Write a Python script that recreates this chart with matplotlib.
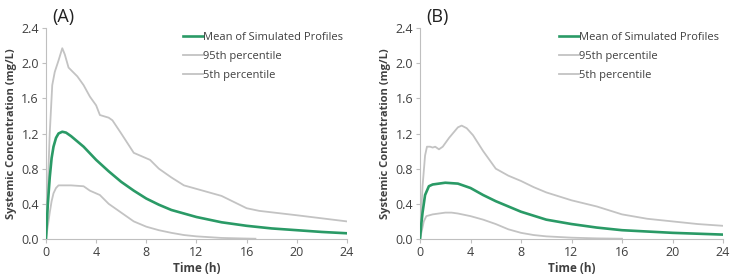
import matplotlib
matplotlib.use("Agg")
import matplotlib.pyplot as plt
import numpy as np

plt.rcParams['font.family'] = ['Open Sans', 'DejaVu Sans']

# Panel A data
a_p95_t = [0, 0.3, 0.5, 0.7, 1.0, 1.3, 1.5, 1.8, 2.5, 3.0, 3.5, 4.0, 4.3, 5.0, 5.3, 6.0, 7.0, 8.3, 9.0, 10.0, 11.0, 12.0, 13.0, 14.0, 15.0, 16.0, 17.0, 20.0, 24.0]
a_p95_c = [0, 1.2, 1.75, 1.9, 2.03, 2.17, 2.1, 1.95, 1.85, 1.75, 1.62, 1.52, 1.41, 1.38, 1.35, 1.2, 0.98, 0.9, 0.8, 0.7, 0.61, 0.57, 0.53, 0.49, 0.42, 0.35, 0.32, 0.27, 0.2]
a_mean_t = [0, 0.15, 0.3, 0.45, 0.6, 0.8, 1.0, 1.3, 1.6, 2.0, 3.0, 4.0, 5.0, 6.0, 7.0, 8.0, 9.0, 10.0, 12.0, 14.0, 16.0, 18.0, 20.0, 22.0, 24.0]
a_mean_c = [0, 0.4, 0.7, 0.92, 1.05, 1.15, 1.2, 1.22, 1.21, 1.17, 1.05, 0.9, 0.77, 0.65, 0.55, 0.46, 0.39, 0.33, 0.25, 0.19, 0.15, 0.12, 0.1, 0.08, 0.065]
a_p5_t = [0, 0.15, 0.3, 0.45, 0.6, 0.8, 1.0, 2.0, 3.0, 3.5, 4.3, 5.0, 6.0, 7.0, 8.0, 9.0, 10.0, 11.0, 12.0, 14.0, 16.0, 16.7]
a_p5_c = [0, 0.15, 0.3, 0.43, 0.52, 0.58, 0.61, 0.61, 0.6, 0.55, 0.5, 0.4, 0.3, 0.2, 0.14, 0.1, 0.07, 0.045, 0.03, 0.012, 0.005, 0.003]

# Panel B data
b_p95_t = [0, 0.2, 0.4, 0.55, 0.8, 1.0, 1.2, 1.5, 1.8, 2.3, 3.0, 3.3, 3.7, 4.2, 5.0, 6.0, 7.0, 8.0, 9.0, 10.0, 12.0, 14.0, 16.0, 18.0, 20.0, 22.0, 24.0]
b_p95_c = [0, 0.6, 0.95, 1.05, 1.05, 1.04, 1.05, 1.02, 1.05, 1.15, 1.27, 1.29, 1.26, 1.18, 1.0, 0.8, 0.72, 0.66, 0.59, 0.53, 0.44, 0.37, 0.28, 0.23, 0.2, 0.17, 0.15]
b_mean_t = [0, 0.1, 0.2, 0.4, 0.7, 1.0, 2.0, 3.0, 4.0, 5.0, 6.0, 7.0, 8.0, 10.0, 12.0, 14.0, 16.0, 18.0, 20.0, 22.0, 24.0]
b_mean_c = [0, 0.17, 0.3, 0.5, 0.6, 0.62, 0.64, 0.63, 0.58, 0.5, 0.43, 0.37, 0.31, 0.22, 0.17, 0.13, 0.1, 0.085, 0.07, 0.06, 0.05]
b_p5_t = [0, 0.15, 0.3, 0.5, 1.0, 2.0, 2.5, 3.0, 4.0, 5.0, 6.0, 7.0, 8.0, 9.0, 10.0, 12.0, 14.0, 16.0]
b_p5_c = [0, 0.1, 0.2, 0.26, 0.28, 0.3, 0.3, 0.29, 0.26, 0.22, 0.17, 0.11, 0.07, 0.045, 0.03, 0.015, 0.007, 0.003]

x_ticks = [0, 4, 8, 12, 16, 20, 24]
y_ticks = [0.0, 0.4, 0.8, 1.2, 1.6, 2.0, 2.4]
labels = ["Mean of Simulated Profiles", "95th percentile", "5th percentile"]
panel_titles = ["(A)", "(B)"]

green = '#2a9a66'
grey = '#c3c3c3'
spine_col = '#bfbfbf'
text_col = '#404040'

fig = plt.figure(figsize=(7.32, 2.79), dpi=100)
axA = fig.add_axes([0.0628, 0.1434, 0.4112, 0.7562])
axB = fig.add_axes([0.5738, 0.1434, 0.4139, 0.7562])

panels = [
    (axA, a_mean_t, a_mean_c, a_p95_t, a_p95_c, a_p5_t, a_p5_c),
    (axB, b_mean_t, b_mean_c, b_p95_t, b_p95_c, b_p5_t, b_p5_c),
]

for i, (ax, mt, mc, pt, pc, qt, qc) in enumerate(panels):
    ax.plot(mt, mc, color=green, lw=1.9, label=labels[0], zorder=3)
    ax.plot(pt, pc, color=grey, lw=1.3, label=labels[1], zorder=2)
    ax.plot(qt, qc, color=grey, lw=1.3, label=labels[2], zorder=2)
    ax.set_xlim(0, 24)
    ax.set_ylim(0, 2.4)
    ax.set_xticks(x_ticks)
    ax.set_yticks(y_ticks)
    ax.set_yticklabels([f"{v:.1f}" for v in y_ticks])
    for s in ['top', 'right']:
        ax.spines[s].set_visible(False)
    for s in ['left', 'bottom']:
        ax.spines[s].set_color(spine_col)
        ax.spines[s].set_linewidth(0.8)
    ax.tick_params(axis='both', colors=spine_col, labelcolor=text_col, labelsize=9, length=3, width=0.8, pad=2)
    ax.set_xlabel("Time (h)", fontsize=8.5, fontweight='bold', color=text_col, labelpad=2)
    ax.set_ylabel("Systemic Concentration (mg/L)", fontsize=8, fontweight='bold', color=text_col, labelpad=3)
    leg = ax.legend(loc='upper right', frameon=False, fontsize=8, handlelength=1.8, handletextpad=0.0,
                    labelspacing=0.75, bbox_to_anchor=(1.02, 1.03))
    for t in leg.get_texts():
        t.set_color(text_col)
    ax.text(0.02, 1.01, panel_titles[i], transform=ax.transAxes, fontsize=13, color='#222222', ha='left', va='bottom')

fig.savefig("out.png", dpi=100)
